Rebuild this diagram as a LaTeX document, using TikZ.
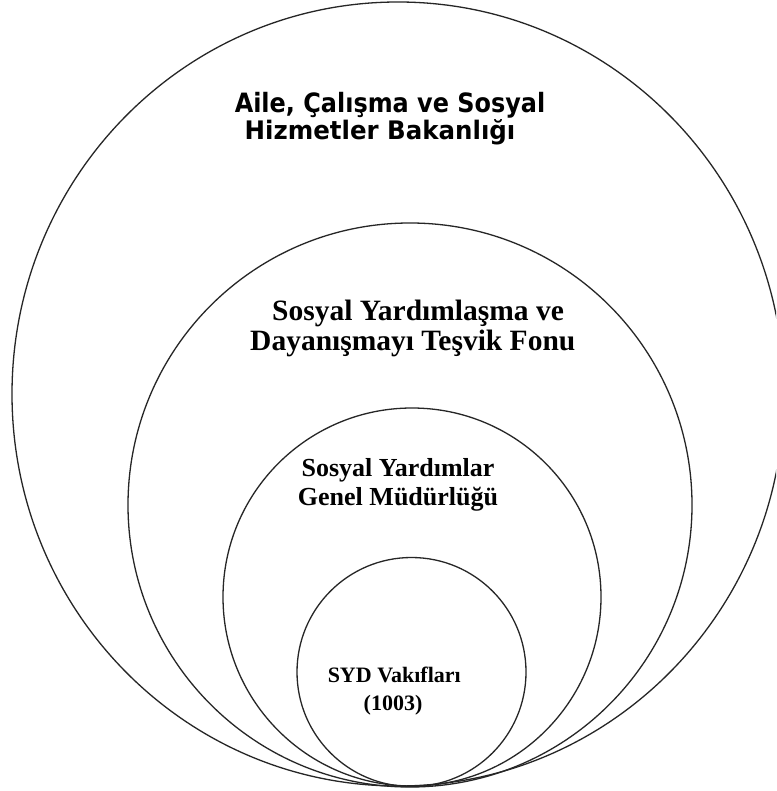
\documentclass[tikz,border=0pt]{standalone}
\usepackage{fontspec}
\setmainfont{Liberation Serif}
\newfontfamily\tahomaA[FakeStretch=0.9]{DejaVu Sans}
\newfontfamily\tahomaB[FakeStretch=0.96]{DejaVu Sans}
\begin{document}
\begin{tikzpicture}[x=1pt,y=-1pt,
  ring/.style={draw=black!85,line width=1.3pt},
  sanslabel/.style={anchor=base,inner sep=0pt},
  seriflabel/.style={anchor=base,inner sep=0pt}]
\useasboundingbox (0,0) rectangle (776,791);
\clip (0,0) rectangle (776,791);
\fill[white] (0,0) rectangle (776,791);
\draw[ring] (398,394) ellipse [x radius=386, y radius=392];
\draw[ring] (410,505) circle [radius=282];
\draw[ring] (412,597) circle [radius=189];
\draw[ring] (411.5,672) circle [radius=114.5];
\node[sanslabel,font=\tahomaA\bfseries\fontsize{26.6}{30}\selectfont] (min1) at (390,113) {Aile, Çalışma ve Sosyal};
\node[sanslabel,font=\tahomaB\bfseries\fontsize{25.5}{30}\selectfont] (min2) at (380,140) {Hizmetler Bakanlığı};
\node[seriflabel,anchor=base west,font=\bfseries\fontsize{29.5}{32}\selectfont] (fon1) at (272,320) {Sosyal Yardımlaşma ve};
\node[seriflabel,anchor=base west,font=\bfseries\fontsize{29.5}{32}\selectfont] (fon2) at (250,350) {Dayanışmayı Teşvik Fonu};
\node[seriflabel,font=\bfseries\fontsize{26}{30}\selectfont] (gm1) at (398,476) {Sosyal Yardımlar};
\node[seriflabel,font=\bfseries\fontsize{26}{30}\selectfont] (gm2) at (398,505) {Genel Müdürlüğü};
\node[seriflabel,anchor=base east,font=\bfseries\fontsize{22}{28}\selectfont] (vak1) at (461,682) {SYD Vakıfları};
\node[seriflabel,font=\bfseries\fontsize{22}{28}\selectfont] (vak2) at (393,710) {(1003)};
\end{tikzpicture}
\end{document}
